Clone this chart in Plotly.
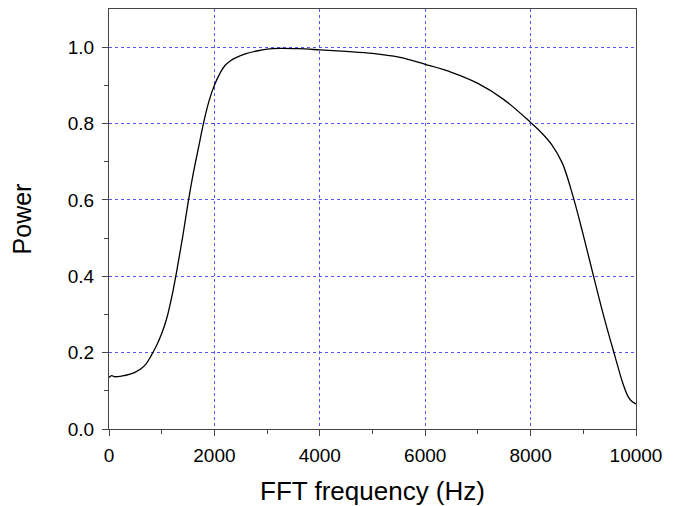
import plotly.graph_objects as go

freq = [0, 50, 100, 250, 400, 500, 600, 700, 800, 900, 1000, 1100, 1200, 1300, 1400, 1500,
        1600, 1700, 1800, 1900, 2000, 2100, 2200, 2300, 2400, 2600, 2800, 3000, 3250, 3600,
        4000, 4500, 5000, 5500, 6000, 6500, 7000, 7500, 8000, 8200, 8400, 8600, 8800, 9000,
        9200, 9400, 9600, 9750, 9850, 9925, 10000]
power = [0.135, 0.140, 0.137, 0.139, 0.144, 0.149, 0.157, 0.170, 0.192, 0.218, 0.250, 0.292,
         0.352, 0.425, 0.505, 0.592, 0.670, 0.738, 0.805, 0.860, 0.900, 0.930, 0.952, 0.964,
         0.972, 0.983, 0.990, 0.995, 0.997, 0.996, 0.993, 0.989, 0.984, 0.974, 0.955, 0.934,
         0.905, 0.862, 0.803, 0.777, 0.745, 0.697, 0.612, 0.508, 0.397, 0.289, 0.191, 0.120,
         0.085, 0.072, 0.066]

x_ticks = [0, 2000, 4000, 6000, 8000, 10000]
y_ticks = [0.0, 0.2, 0.4, 0.6, 0.8, 1.0]
y_labels = ["0.0", "0.2", "0.4", "0.6", "0.8", "1.0"]

fig = go.Figure()
fig.add_trace(go.Scatter(x=freq, y=power, mode="lines",
                         line=dict(color="black", width=1.3, shape="spline", smoothing=1.0),
                         showlegend=False))

font = "Liberation Sans, Arial, sans-serif"
# page body has an 8px margin, so the figure is drawn 8px in from the top-left
fig.update_layout(
    width=674, height=498,
    margin=dict(l=101, r=46, t=1, b=77),
    plot_bgcolor="white", paper_bgcolor="white",
    font=dict(family=font, color="black", size=19),
)
common = dict(
    showline=True, linecolor="#444", linewidth=1, mirror=True,
    ticks="outside", ticklen=6, tickcolor="#444",
    showgrid=True, gridcolor="#5555ff", griddash="dot", gridwidth=1,
    zeroline=False, automargin=False, tickfont=dict(size=19),
)
fig.update_xaxes(
    range=[0, 10000], tickvals=x_ticks, ticktext=[str(v) for v in x_ticks],
    minor=dict(tickvals=[1000, 3000, 5000, 7000, 9000], ticks="outside", ticklen=4,
               tickcolor="#444", showgrid=False),
    title=dict(text="FFT frequency (Hz)", font=dict(size=26), standoff=18),
    ticklabelstandoff=3,
    **common,
)
fig.update_yaxes(
    range=[0, 1.1], tickvals=y_ticks, ticktext=y_labels,
    minor=dict(tickvals=[0.1, 0.3, 0.5, 0.7, 0.9], ticks="outside", ticklen=4,
               tickcolor="#444", showgrid=False),
    title=dict(text="Power", font=dict(size=25), standoff=34),
    ticklabelstandoff=4,
    **common,
)
fig.write_html("out.html")
